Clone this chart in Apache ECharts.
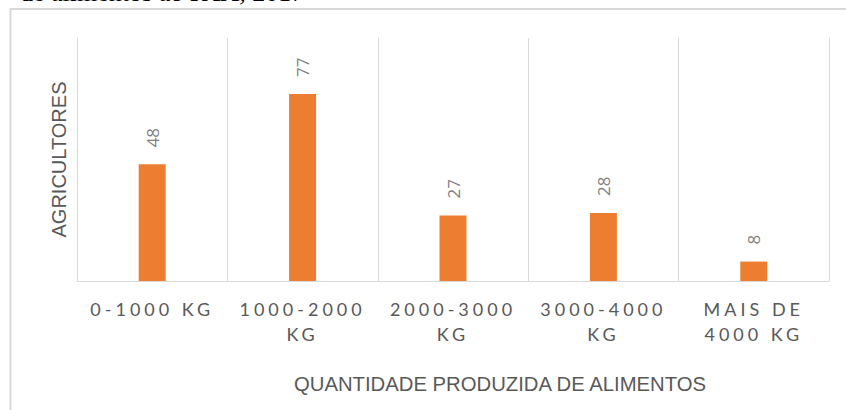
<!DOCTYPE html>
<html>
<head>
<meta charset="utf-8">
<script src="https://cdn.jsdelivr.net/npm/echarts@6/dist/echarts.min.js"></script>
<style>
  html, body { margin: 0; padding: 0; background: #ffffff; }
  #chart { width: 846px; height: 410px; }
  #chart text[style*="Lato"] { letter-spacing: 4px; }
</style>
</head>
<body>
<div id="chart"></div>
<script>
// Data
const categories = ['0-1000 KG', '1000-2000\nKG', '2000-3000\nKG', '3000-4000\nKG', 'MAIS DE\n4000 KG'];
const agricultores = [48, 77, 27, 28, 8];
const yAxisName = 'AGRICULTORES';
const xAxisName = 'QUANTIDADE PRODUZIDA DE ALIMENTOS';
const captionText = 'de alimentos ao PAA, 2017';

const chart = echarts.init(document.getElementById('chart'), null, { renderer: 'svg' });
chart.setOption({
  animation: false,
  backgroundColor: '#ffffff',
  graphic: [
    {
      type: 'rect', z: -10, silent: true,
      shape: { x: 10.5, y: 9, width: 900, height: 500 },
      style: { fill: 'none', stroke: '#d9d9d9', lineWidth: 2 }
    },
    {
      type: 'text', silent: true, left: 20, top: -21,
      style: { text: captionText, font: '26px "Liberation Serif"', fill: '#000000' }
    }
  ],
  grid: { left: 77, right: 17, top: 38, bottom: 129, containLabel: false },
  xAxis: {
    type: 'category',
    data: categories,
    boundaryGap: true,
    axisLine: { show: true, lineStyle: { color: '#d9d9d9', width: 1 } },
    axisTick: { show: false },
    splitLine: { show: true, lineStyle: { color: '#d9d9d9', width: 1 } },
    axisLabel: {
      interval: 0, margin: 15,
      color: '#595959', fontFamily: 'Lato', fontSize: 18, lineHeight: 25
    },
    name: xAxisName,
    nameLocation: 'middle',
    nameGap: 93,
    nameTextStyle: {
      color: '#595959', fontFamily: 'Liberation Sans', fontSize: 20.3,
      padding: [0, 0, 0, 94]
    }
  },
  yAxis: {
    type: 'value', min: 0, max: 100,
    axisLine: { show: false }, axisTick: { show: false },
    axisLabel: { show: false }, splitLine: { show: false },
    name: yAxisName,
    nameLocation: 'middle',
    nameGap: 8,
    nameTextStyle: { color: '#595959', fontFamily: 'Liberation Sans', fontSize: 20 }
  },
  series: [{
    type: 'bar',
    data: agricultores,
    barWidth: 27,
    itemStyle: { color: '#ED7D31' },
    label: {
      show: true, position: 'top', rotate: 90, distance: 17,
      align: 'left', verticalAlign: 'middle',
      color: '#7f7f7f', fontFamily: 'Open Sans', fontSize: 17
    }
  }]
});
</script>
</body>
</html>
